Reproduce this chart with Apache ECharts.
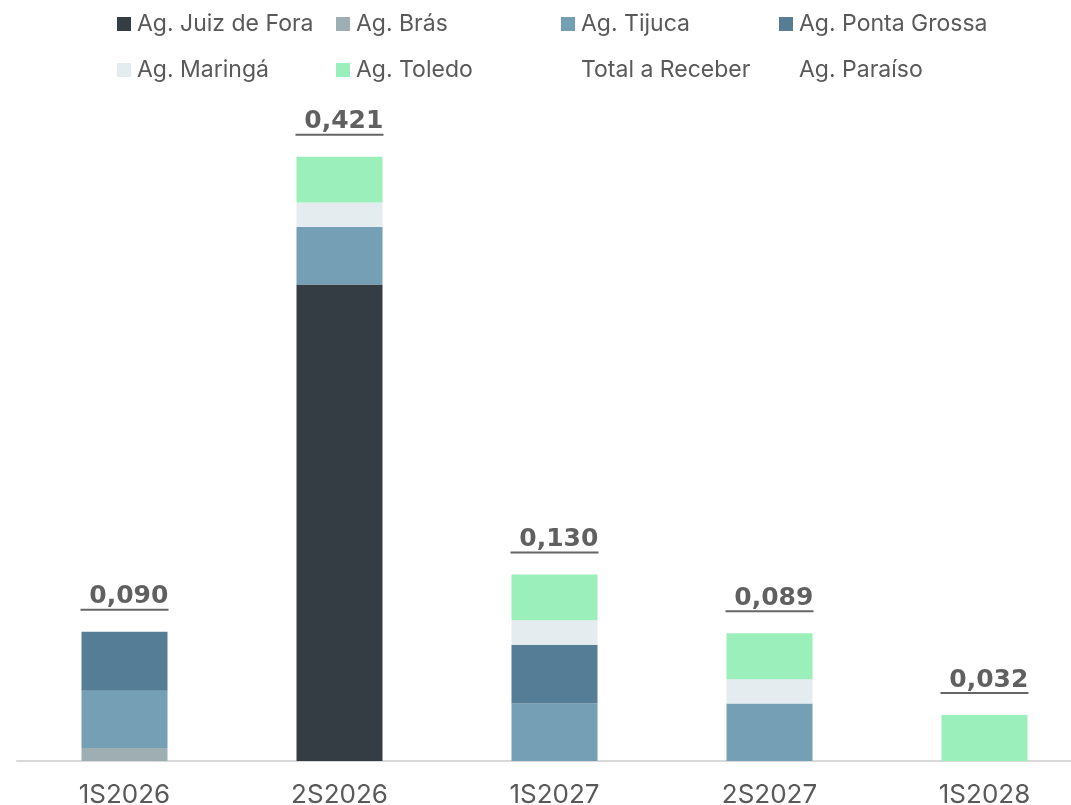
<!DOCTYPE html>
<html>
<head>
    <meta charset="UTF-8">
    <title>Total a Receber</title>
    <script src="https://cdn.jsdelivr.net/npm/echarts@6/dist/echarts.min.js"></script>
    <style>
        html, body { margin: 0; padding: 0; background: #fff; }
        #chart { width: 1071px; height: 805px; }
    </style>
</head>
<body>
    <div id="chart"></div>
    <script>
        // data
        var categories = ['1S2026', '2S2026', '1S2027', '2S2027', '1S2028'];
        var juizDeFora  = [null, 0.332, null, null, null];
        var bras        = [0.009, null, null, null, null];
        var tijuca      = [0.040, 0.040, 0.040, 0.040, null];
        var pontaGrossa = [0.041, null, 0.041, null, null];
        var maringa     = [null, 0.017, 0.017, 0.017, null];
        var toledo      = [null, 0.032, 0.032, 0.032, 0.032];
        var paraiso     = [null, null, null, null, null];
        var totals      = [0.090, 0.421, 0.130, 0.089, 0.032];

        var font = 'Inter';
        var labelFont = 'bold 25px "DejaVu Sans"';
        var chart = echarts.init(document.getElementById('chart'), null, {renderer: 'canvas'});

        // width of a label, so the underline can match it
        var ctx = document.createElement('canvas').getContext('2d');
        function textWidth(s) {
            ctx.font = labelFont;
            return Math.round(ctx.measureText(s).width);
        }
        function fmt(v) {
            return ' ' + v.toFixed(3).replace('.', ',');
        }

        function bar(name, data, color) {
            return {
                name: name,
                type: 'bar',
                stack: 'total',
                barWidth: 86,
                data: data,
                itemStyle: {color: color},
                emphasis: {disabled: true}
            };
        }

        function legendCol(left, names) {
            return {
                orient: 'vertical',
                left: left,
                top: 12,
                padding: 0,
                itemWidth: 14,
                itemHeight: 14,
                itemGap: 22,
                icon: 'rect',
                selectedMode: false,
                textStyle: {fontFamily: font, fontSize: 23, color: '#595959', lineHeight: 24, padding: [0, 0, 0, 1]},
                data: names
            };
        }

        var underline = {a: {fontFamily: 'DejaVu Sans', fontSize: 25, fontWeight: 'bold', color: '#383838', lineHeight: 24}};
        totals.forEach(function (v) {
            var w = textWidth(fmt(v));
            underline['u' + w] = {width: w, height: 2, backgroundColor: '#404040'};
        });

        var option = {
            backgroundColor: '#ffffff',
            animation: false,
            legend: [
                legendCol(117, ['Ag. Juiz de Fora', 'Ag. Maringá']),
                legendCol(336, ['Ag. Brás', 'Ag. Toledo']),
                legendCol(561, ['Ag. Tijuca', {name: 'Total a Receber', icon: 'none'}]),
                legendCol(779, ['Ag. Ponta Grossa', {name: 'Ag. Paraíso', icon: 'none'}])
            ],
            grid: {left: 17, top: 115, width: 1075, bottom: 44, outerBoundsMode: 'none'},
            xAxis: {
                type: 'category',
                data: categories,
                axisLine: {lineStyle: {color: '#d9d9d9', width: 2}},
                axisTick: {show: false},
                axisLabel: {fontFamily: font, fontSize: 26, color: '#595959', margin: 21}
            },
            yAxis: {
                type: 'value',
                min: 0,
                max: 0.45,
                show: false
            },
            series: [
                bar('Ag. Juiz de Fora', juizDeFora, '#333d43'),
                bar('Ag. Brás', bras, '#9faeb3'),
                bar('Ag. Tijuca', tijuca, '#759fb5'),
                bar('Ag. Ponta Grossa', pontaGrossa, '#557d95'),
                bar('Ag. Maringá', maringa, '#e5ecef'),
                bar('Ag. Toledo', toledo, '#9aefba'),
                bar('Ag. Paraíso', paraiso, '#ffffff'),
                {
                    name: 'Total a Receber',
                    type: 'scatter',
                    data: totals,
                    symbolSize: 0,
                    itemStyle: {color: 'transparent'},
                    emphasis: {disabled: true},
                    label: {
                        show: true,
                        position: 'top',
                        distance: 21,
                        color: '#383838',
                        formatter: function (p) {
                            var s = fmt(p.value);
                            return '{a|' + s + '}\n{u' + textWidth(s) + '|}';
                        },
                        rich: underline
                    }
                }
            ]
        };
        chart.setOption(option);
    </script>
</body>
</html>
